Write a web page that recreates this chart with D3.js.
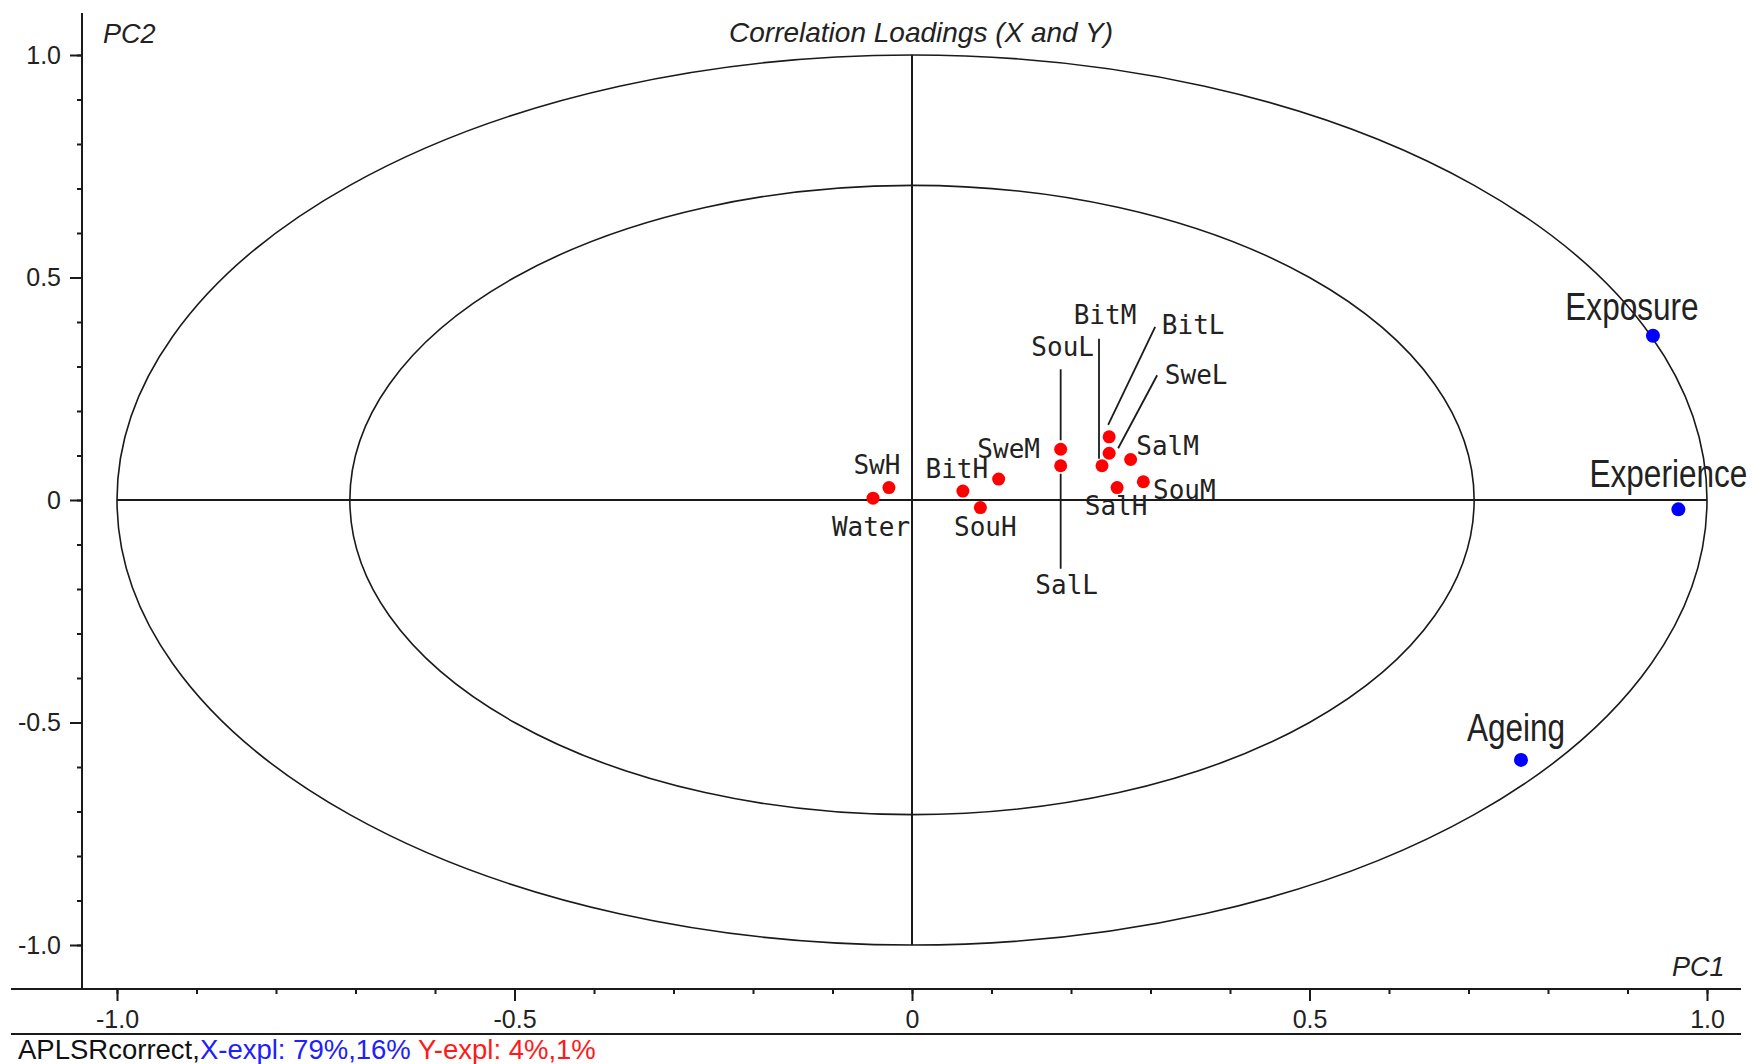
<!DOCTYPE html>
<html>
<head>
<meta charset="utf-8">
<script src="https://cdn.jsdelivr.net/npm/d3@7"></script>
<style>
  html, body { margin: 0; padding: 0; background: #fff; }
  svg { display: block; }
</style>
</head>
<body>
<svg id="chart" width="1753" height="1064"></svg>
<script>
// Y-variables (red) and X-variables (blue) with their PC1/PC2 correlation loadings
const yNames = ["Water", "SwH", "BitH", "SouH", "SweM", "SouL", "SalL", "BitM", "BitL", "SweL", "SalM", "SalH", "SouM"];
const yPC1   = [-0.049, -0.029, 0.064, 0.086, 0.109, 0.187, 0.187, 0.239, 0.248, 0.248, 0.275, 0.258, 0.291];
const yPC2   = [ 0.004,  0.028, 0.020, -0.017, 0.047, 0.114, 0.077, 0.077, 0.142, 0.105, 0.091, 0.028, 0.041];

const xNames = ["Exposure", "Experience", "Ageing"];
const xPC1   = [0.932, 0.964, 0.766];
const xPC2   = [0.369, -0.021, -0.584];

const majorTicks = [-1.0, -0.5, 0, 0.5, 1.0];
const minorTicks = d3.range(-10, 11).map(i => i / 10);
const circleRadii = [1.0, Math.SQRT1_2];

const xExplained = [79, 16];
const yExplained = [4, 1];

// label placement relative to each point (pixels) and optional leader lines
const labelOffset = {
  Water: [-2, 38], SwH: [-12, -14], BitH: [-6, -13], SouH: [5, 28], SweM: [10, -21],
  SouL: [2, -93], SalL: [6, 128], BitM: [3, -142], BitL: [84, -103], SweL: [87, -69],
  SalM: [37, -5], SalH: [-1, 27], SouM: [41, 17],
  Exposure: [-21, -16], Experience: [-10, -22], Ageing: [-5, -19]
};
const leaders = {
  SouL: [0, -80, 0, -9],
  SalL: [0, 8, 0, 103],
  BitM: [-3, -127, -3, -7],
  BitL: [46, -110, -1, -12],
  SweL: [48, -78, 9, -5]
};

const svg = d3.select("#chart");
const W = 1753, H = 1064;
svg.append("rect").attr("width", W).attr("height", H).attr("fill", "#fff");

const x = d3.scaleLinear().domain([-1, 1]).range([117, 1707]);
const y = d3.scaleLinear().domain([-1, 1]).range([945, 55]);

const axisX = 82, axisY = 989;
const ink = "#1a1a1a";
const sans = "'Liberation Sans', Arial, sans-serif";

// correlation circles (50% and 100% explained variance)
svg.append("g").selectAll("ellipse").data(circleRadii).join("ellipse")
  .attr("cx", x(0)).attr("cy", y(0))
  .attr("rx", r => x(r) - x(0)).attr("ry", r => y(0) - y(r))
  .attr("fill", "none").attr("stroke", ink).attr("stroke-width", 1.6);

// zero cross
svg.append("line").attr("x1", x(-1)).attr("x2", x(1)).attr("y1", y(0)).attr("y2", y(0))
  .attr("stroke", ink).attr("stroke-width", 2);
svg.append("line").attr("x1", x(0)).attr("x2", x(0)).attr("y1", y(1)).attr("y2", y(-1))
  .attr("stroke", ink).attr("stroke-width", 2);

// axes
function styleAxis(g) {
  g.select(".domain").remove();
  g.selectAll("line").attr("stroke", ink).attr("stroke-width", 2);
  g.selectAll("text").attr("font-family", sans).attr("font-size", 25).attr("fill", "#222");
}
svg.append("g").attr("transform", `translate(${axisX},0)`)
  .call(d3.axisLeft(y).tickValues(minorTicks).tickSize(5).tickFormat(""))
  .call(styleAxis);
svg.append("g").attr("transform", `translate(${axisX},0)`)
  .call(d3.axisLeft(y).tickValues(majorTicks).tickSize(12).tickPadding(9)
    .tickFormat(d => d === 0 ? "0" : d.toFixed(1)))
  .call(styleAxis);
svg.append("g").attr("transform", `translate(0,${axisY})`)
  .call(d3.axisBottom(x).tickValues(minorTicks).tickSize(5).tickFormat(""))
  .call(styleAxis);
svg.append("g").attr("transform", `translate(0,${axisY})`)
  .call(d3.axisBottom(x).tickValues(majorTicks).tickSize(12).tickPadding(9)
    .tickFormat(d => d === 0 ? "0" : d.toFixed(1)))
  .call(styleAxis);

svg.append("line").attr("x1", axisX).attr("x2", axisX).attr("y1", 13).attr("y2", axisY)
  .attr("stroke", ink).attr("stroke-width", 2);
svg.append("line").attr("x1", 11).attr("x2", 1741).attr("y1", axisY).attr("y2", axisY)
  .attr("stroke", ink).attr("stroke-width", 2);
svg.append("line").attr("x1", 11).attr("x2", 1741).attr("y1", 1034).attr("y2", 1034)
  .attr("stroke", ink).attr("stroke-width", 2);

// titles
svg.append("text").attr("x", 921).attr("y", 42).attr("text-anchor", "middle")
  .attr("font-family", sans).attr("font-style", "italic").attr("font-size", 28).attr("fill", "#222")
  .text("Correlation Loadings (X and Y)");
svg.append("text").attr("x", 103).attr("y", 43)
  .attr("font-family", sans).attr("font-style", "italic").attr("font-size", 27).attr("fill", "#222")
  .text("PC2");
svg.append("text").attr("x", 1672).attr("y", 976)
  .attr("font-family", sans).attr("font-style", "italic").attr("font-size", 27).attr("fill", "#222")
  .text("PC1");

// Y-variable points
const yData = yNames.map((n, i) => ({ name: n, px: x(yPC1[i]), py: y(yPC2[i]) }));
const xData = xNames.map((n, i) => ({ name: n, px: x(xPC1[i]), py: y(xPC2[i]) }));

svg.append("g").selectAll("line").data(yData.filter(d => leaders[d.name])).join("line")
  .attr("x1", d => d.px + leaders[d.name][0]).attr("y1", d => d.py + leaders[d.name][1])
  .attr("x2", d => d.px + leaders[d.name][2]).attr("y2", d => d.py + leaders[d.name][3])
  .attr("stroke", ink).attr("stroke-width", 1.8);

svg.append("g").selectAll("text").data(yData).join("text")
  .attr("x", d => d.px + labelOffset[d.name][0]).attr("y", d => d.py + labelOffset[d.name][1])
  .attr("text-anchor", "middle")
  .attr("font-family", "'DejaVu Sans Mono', monospace").attr("font-size", 26).attr("fill", "#222")
  .text(d => d.name);

svg.append("g").selectAll("circle").data(yData).join("circle")
  .attr("cx", d => d.px).attr("cy", d => d.py).attr("r", 6.5).attr("fill", "#ff0000");

// X-variable points
svg.append("g").selectAll("g").data(xData).join("g")
  .attr("transform", d => `translate(${d.px + labelOffset[d.name][0]},${d.py + labelOffset[d.name][1]}) scale(0.83,1)`)
  .append("text").attr("text-anchor", "middle")
  .attr("font-family", sans).attr("font-size", 38).attr("fill", "#222")
  .text(d => d.name);

svg.append("g").selectAll("circle").data(xData).join("circle")
  .attr("cx", d => d.px).attr("cy", d => d.py).attr("r", 7).attr("fill", "#0000ff");

// footer with explained variance
const foot = svg.append("text").attr("x", 18).attr("y", 1059)
  .attr("font-family", sans).attr("font-size", 27.5);
foot.append("tspan").attr("fill", "#111").text("APLSRcorrect,");
foot.append("tspan").attr("fill", "#2020ff").text(`X-expl: ${xExplained[0]}%,${xExplained[1]}%`);
foot.append("tspan").attr("fill", "#ff1a1a").text(` Y-expl: ${yExplained[0]}%,${yExplained[1]}%`);
</script>
</body>
</html>
